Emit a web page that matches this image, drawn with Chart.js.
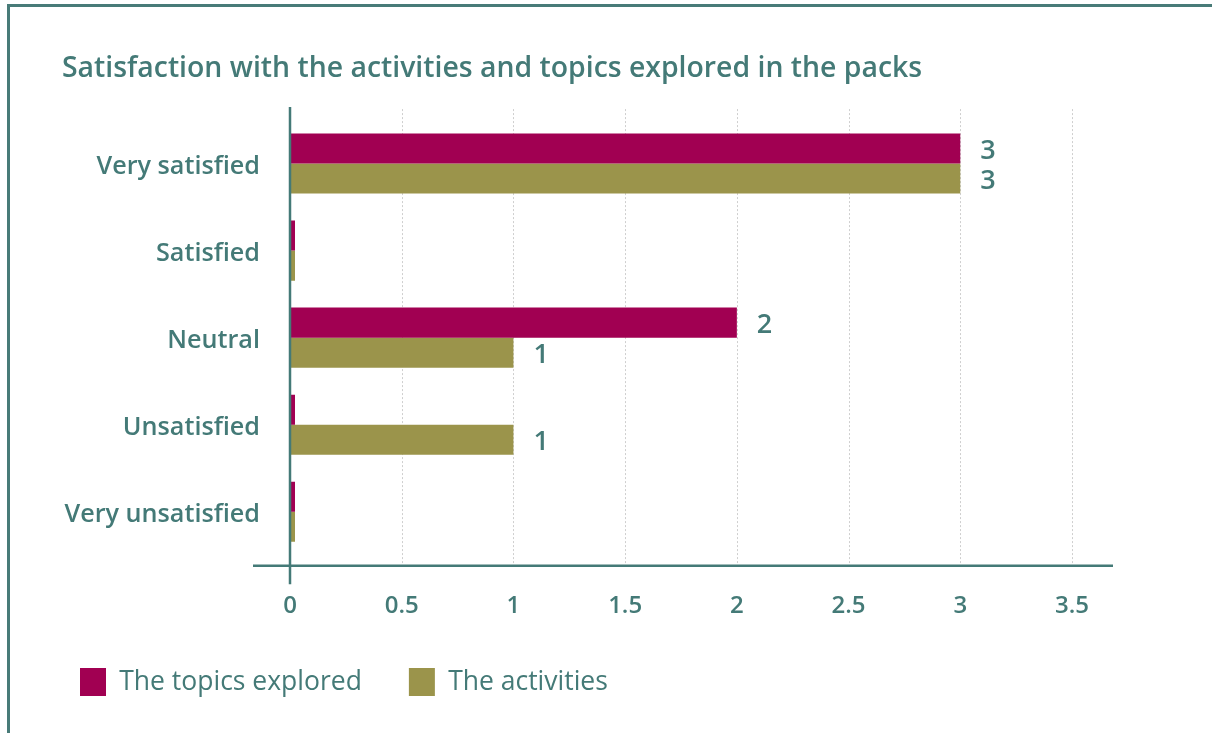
<!DOCTYPE html>
<html>
<head>
<meta charset="utf-8">
<script src="https://cdn.jsdelivr.net/npm/chart.js@4.4.0/dist/chart.umd.min.js"></script>
<style>
  html, body { margin: 0; padding: 0; background: #fff; }
  #wrap { position: relative; width: 1212px; height: 733px; overflow: hidden; }
  #frame {
    position: absolute; left: 7px; top: 4px; right: -10px; bottom: -10px;
    border-top: 3px solid #487b78; border-left: 3px solid #487b78;
  }
  canvas { position: absolute; left: 0; top: 0; }
</style>
</head>
<body>
<div id="wrap">
  <div id="frame"></div>
  <canvas id="chart" width="1212" height="733"></canvas>
</div>
<script>
/* ---- data ---- */
const categories = ['Very satisfied', 'Satisfied', 'Neutral', 'Unsatisfied', 'Very unsatisfied'];
const topicsExplored = [3, 0, 2, 0, 0];
const activities = [3, 0, 1, 1, 0];
const seriesNames = ['The topics explored', 'The activities'];
const xTicks = [0, 0.5, 1, 1.5, 2, 2.5, 3, 3.5];

const TEAL = '#447a77';
const MAGENTA = '#a10052';
const OLIVE = '#9b944b';
const FONT = '"Open Sans", Lato, sans-serif';

/* ---- axes lines, dotted grid and value labels ---- */
const decor = {
  id: 'decor',
  afterLayout(chart) {
    // legend items sit further apart than its left inset; pull the row up too
    chart.legend.left -= 29;
    chart.legend.top -= 37;
  },
  beforeDatasetsDraw(chart) {
    const { ctx, chartArea: a, scales: { x } } = chart;
    ctx.save();
    ctx.strokeStyle = '#cfcfcf';
    ctx.lineWidth = 1;
    ctx.setLineDash([2, 2]);
    xTicks.forEach(v => {
      if (v === 0) return;
      const px = Math.round(x.getPixelForValue(v)) + 0.5;
      ctx.beginPath();
      ctx.moveTo(px, a.top - 11);
      ctx.lineTo(px, a.bottom + 10);
      ctx.stroke();
    });
    ctx.restore();
  },
  afterDatasetsDraw(chart) {
    const { ctx, chartArea: a, scales: { x } } = chart;
    ctx.save();
    ctx.strokeStyle = TEAL;
    ctx.lineWidth = 2.5;
    // x axis line
    const yAxis = a.bottom + 10.5;
    ctx.beginPath();
    ctx.moveTo(a.left - 37, yAxis);
    ctx.lineTo(a.right + 41, yAxis);
    ctx.stroke();
    // y axis line at zero
    const x0 = x.getPixelForValue(0);
    ctx.beginPath();
    ctx.moveTo(x0, a.top - 13);
    ctx.lineTo(x0, a.bottom + 29);
    ctx.stroke();

    // value labels
    ctx.fillStyle = TEAL;
    ctx.font = '600 27px ' + FONT;
    ctx.textAlign = 'left';
    ctx.textBaseline = 'middle';
    chart.data.datasets.forEach((ds, di) => {
      const meta = chart.getDatasetMeta(di);
      meta.data.forEach((bar, i) => {
        const v = ds.data[i];
        if (!v) return;
        ctx.fillText(String(v), bar.x + 20, bar.y + 3);
      });
    });
    ctx.restore();
  }
};

new Chart(document.getElementById('chart'), {
  type: 'bar',
  data: {
    labels: categories,
    datasets: [
      { label: seriesNames[0], data: topicsExplored, backgroundColor: MAGENTA },
      { label: seriesNames[1], data: activities, backgroundColor: OLIVE },
    ],
  },
  options: {
    indexAxis: 'y',
    responsive: false,
    animation: false,
    devicePixelRatio: 1,
    categoryPercentage: 0.69,
    barPercentage: 1,
    minBarLength: 5,
    layout: { padding: { left: 62, right: 140, top: 42, bottom: -10 } },
    plugins: {
      title: {
        display: true,
        text: 'Satisfaction with the activities and topics explored in the packs',
        align: 'start',
        color: TEAL,
        font: { family: FONT, size: 28.4, weight: '600' },
        padding: { top: 10, bottom: 34 },
      },
      legend: {
        position: 'bottom',
        align: 'start',
        labels: {
          color: TEAL,
          font: { family: FONT, size: 26.5 },
          boxWidth: 26,
          boxHeight: 28,
          padding: 47,
        },
      },
      tooltip: { enabled: false },
    },
    scales: {
      x: {
        min: 0,
        max: 3.5,
        afterBuildTicks: (s) => { s.ticks = xTicks.map(v => ({ value: v })); },
        grid: { display: false, drawTicks: false },
        border: { display: false },
        ticks: {
          color: TEAL,
          font: { family: FONT, size: 24, weight: '600' },
          padding: 37,
          callback: (v) => String(v),
        },
      },
      y: {
        grid: { display: false, drawTicks: false },
        border: { display: false },
        afterFit: (s) => { s.width = 228; },
        ticks: {
          color: TEAL,
          font: { family: FONT, size: 25.2, weight: '600' },
          padding: 30,
          labelOffset: 3,
        },
      },
    },
  },
  plugins: [decor],
});
</script>
</body>
</html>
